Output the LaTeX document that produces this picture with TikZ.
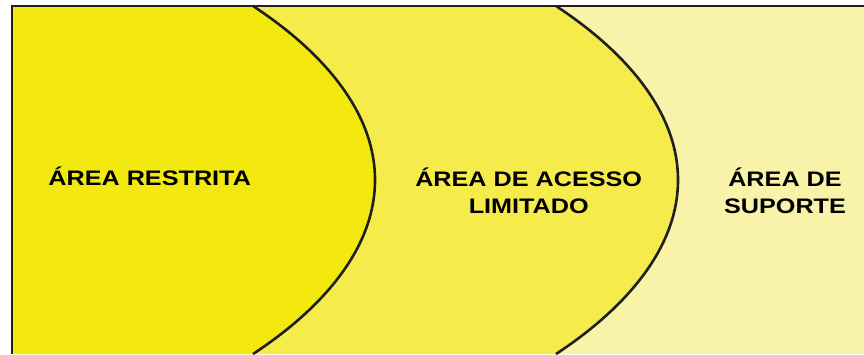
\documentclass[tikz,border=0pt]{standalone}
\usepackage{fontspec}
\setmainfont{Liberation Sans}
\definecolor{restrita}{RGB}{243,233,14}
\definecolor{acesso}{RGB}{245,236,76}
\definecolor{suporte}{RGB}{248,243,168}
\tikzset{
  zonelabel/.style={font=\bfseries\fontsize{21}{27}\selectfont, align=center, xscale=1.2, inner sep=0pt, anchor=base},
  zoneline/.style={draw=black!88, line width=2.6pt}
}

\begin{document}
\begin{tikzpicture}[x=1pt,y=-1pt]
  \useasboundingbox (0,0) rectangle (864,354);
  \fill[suporte] (12,6) rectangle (864,354);
  \fill[acesso] (12,6) -- (556,6) .. controls (623,50) and (678,110) .. (678,180)
    .. controls (678,250) and (623,310) .. (556,354) -- (12,354) -- cycle;
  \fill[restrita] (12,6) -- (253,6) .. controls (320,50) and (375,110) .. (375,180)
    .. controls (375,250) and (320,310) .. (253,354) -- (12,354) -- cycle;
  % boundaries
  \draw[zoneline] (253,6) .. controls (320,50) and (375,110) .. (375,180)
    .. controls (375,250) and (320,310) .. (253,354);
  \draw[zoneline] (556,6) .. controls (623,50) and (678,110) .. (678,180)
    .. controls (678,250) and (623,310) .. (556,354);
  \draw[zoneline] (12,354) -- (12,6) -- (864,6);
  \node[zonelabel] (restrita) at (149.7,185) {ÁREA RESTRITA};
  \node[zonelabel] (acesso) at (528.7,213) {ÁREA DE ACESSO\\LIMITADO};
  \node[zonelabel] (suporte) at (785,213) {ÁREA DE\\SUPORTE};
\end{tikzpicture}
\end{document}
